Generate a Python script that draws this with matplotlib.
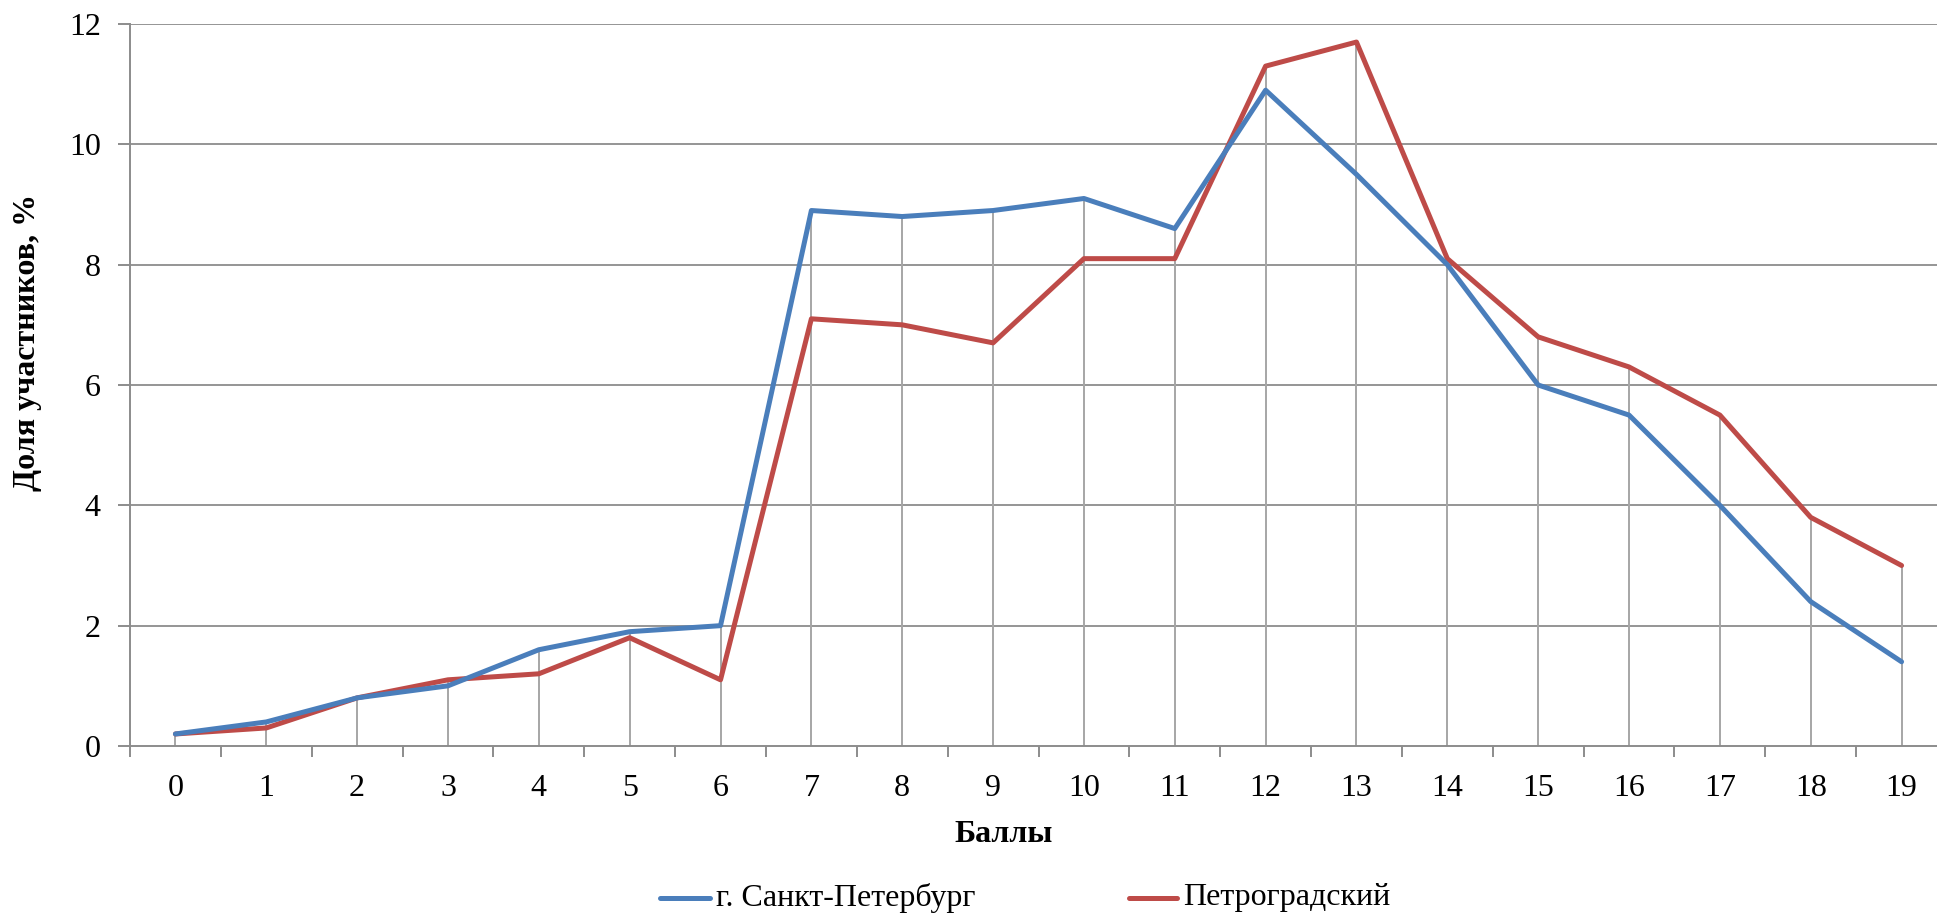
import matplotlib
matplotlib.use("Agg")
import matplotlib.pyplot as plt
from matplotlib.lines import Line2D
import numpy as np

plt.rcParams['font.family'] = ['Liberation Serif', 'DejaVu Serif']

categories = [str(i) for i in range(20)]
spb = [0.2, 0.4, 0.8, 1.0, 1.6, 1.9, 2.0, 8.9, 8.8, 8.9, 9.1, 8.6, 10.9, 9.5, 8.0, 6.0, 5.5, 4.0, 2.4, 1.4]
petro = [0.2, 0.3, 0.8, 1.1, 1.2, 1.8, 1.1, 7.1, 7.0, 6.7, 8.1, 8.1, 11.3, 11.7, 8.1, 6.8, 6.3, 5.5, 3.8, 3.0]
series_names = ["г. Санкт-Петербург", "Петроградский"]
y_ticks = [0, 2, 4, 6, 8, 10, 12]
xlabel = "Баллы"
ylabel = "Доля участников, %"

W, H = 1937, 915
fig = plt.figure(figsize=(W / 100, H / 100), dpi=100)
left, right, top, bottom = 130, 1947, 24, 746
ax = fig.add_axes([left / W, 1 - bottom / H, (right - left) / W, (bottom - top) / H])

x = np.arange(len(categories))
blue = '#4A7EBB'
red = '#BE4B48'
grid_c = '#8c8c8c'
FS = 23

ax.set_xlim(-0.5, len(categories) - 0.5)
ax.set_ylim(0, 12)

for yv in y_ticks[1:]:
    ax.axhline(yv, color=grid_c, lw=1.3, zorder=1)

tops = np.maximum(spb, petro)
ax.vlines(x, 0, tops, color='#a6a6a6', lw=1.4, zorder=2)

ax.plot(x, spb, color=blue, lw=3.6, zorder=4, solid_joinstyle='round', solid_capstyle='round')
ax.plot(x, petro, color=red, lw=3.6, zorder=3, solid_joinstyle='round', solid_capstyle='round')

for s in ['top', 'right']:
    ax.spines[s].set_visible(False)
for s in ['left', 'bottom']:
    ax.spines[s].set_color(grid_c)
    ax.spines[s].set_linewidth(1.4)

ax.set_yticks(y_ticks)
ax.set_yticklabels([str(v) for v in y_ticks])
ax.set_xticks(x)
ax.set_xticklabels(categories)
ax.set_xticks(np.arange(-0.5, len(categories), 1.0), minor=True)
ax.tick_params(axis='x', which='major', length=0, pad=20, labelsize=FS)
ax.tick_params(axis='x', which='minor', length=8, width=1.4, color=grid_c, direction='out')
ax.tick_params(axis='y', which='major', length=9, width=1.4, color=grid_c, direction='out', pad=12, labelsize=FS)

fig.text(28 / W, 1 - 342 / H, ylabel, rotation=90, ha='center', va='center',
         fontsize=FS, fontweight='bold')
fig.text(1004 / W, 1 - 835 / H, xlabel, ha='center', va='center',
         fontsize=FS, fontweight='bold')

# legend
ly = 1 - 898 / H
legend_items = [(660, 710, 716, blue, series_names[0]), (1129, 1177, 1183, red, series_names[1])]
for x0, x1, tx, c, name in legend_items:
    fig.add_artist(Line2D([x0 / W, x1 / W], [ly, ly], color=c, lw=3.6,
                          solid_capstyle='round', transform=fig.transFigure))
    fig.text(tx / W, ly, name, ha='left', va='center', fontsize=FS)

fig.savefig('out.png', dpi=100)
